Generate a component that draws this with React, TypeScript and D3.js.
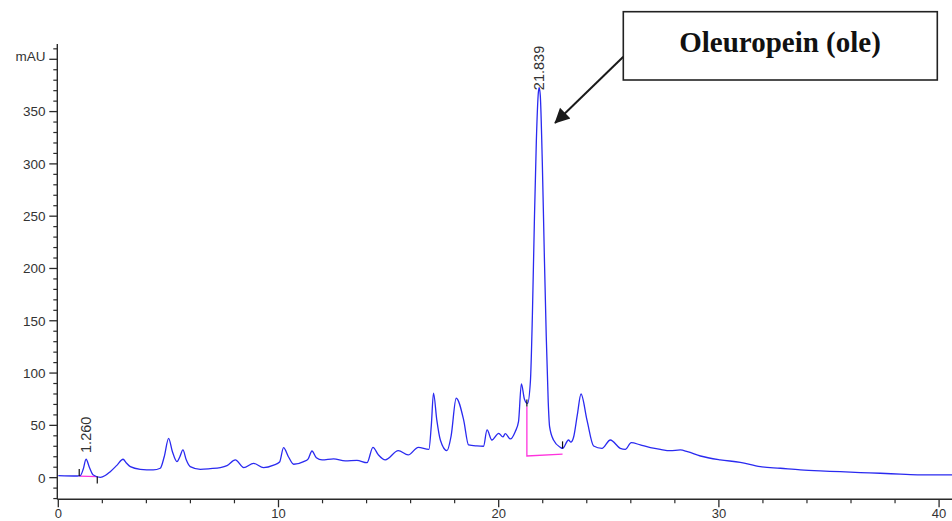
import React from "react";
import * as d3 from "d3";

// Retention time (min) and absorbance (mAU)
const retentionTimes = [
  0, 0.86, 1.0, 1.13, 1.26, 1.41, 1.59, 1.91, 2.13, 2.36, 2.67, 2.94, 3.09, 3.27, 3.72, 4.31, 4.63, 4.81,
  5.01, 5.18, 5.39, 5.52, 5.66, 5.81, 5.99, 6.45, 6.9, 7.36, 7.66, 8.04, 8.42, 8.87, 9.32, 9.78, 10.05,
  10.23, 10.45, 10.69, 11.14, 11.35, 11.52, 11.72, 11.98, 12.5, 13.03, 13.56, 14.02, 14.29, 14.53, 14.85,
  15.44, 15.89, 16.35, 16.83, 16.94, 17.04, 17.19, 17.35, 17.65, 17.84, 18.07, 18.41, 18.63, 19.01, 19.31,
  19.47, 19.69, 20.0, 20.19, 20.3, 20.53, 20.75, 20.9, 21.03, 21.17, 21.31, 21.44, 21.53, 21.62, 21.71,
  21.8, 21.84, 21.89, 21.98, 22.07, 22.16, 22.25, 22.31, 22.49, 22.8, 22.9, 23.17, 23.28, 23.4, 23.57,
  23.74, 24.01, 24.31, 24.69, 25.07, 25.52, 25.75, 26.02, 26.43, 26.89, 27.34, 27.79, 28.25, 28.57, 29.16,
  30.06, 30.97, 31.88, 32.79, 33.7, 34.6, 35.51, 36.42, 37.33, 38.24, 39.15, 40.6,
];
const absorbance = [
  2, 1.6, 2, 8, 17.6, 10, 2.5, 0.3, 2, 5.7, 12, 17.6, 14, 10.5, 8, 7.4, 9, 20,
  37.6, 25, 15.3, 20, 26.5, 17, 10.5, 8, 8.6, 9.6, 11.5, 17, 9.6, 13.7, 9.6, 12, 15,
  28.7, 20, 12.8, 15.3, 18, 25.5, 19, 17, 18, 16, 16.5, 14.3, 29, 22, 17,
  25.8, 21.7, 29, 27, 50, 80.7, 55, 36, 25.8, 40, 75.9, 55, 31.3, 30.3, 30,
  45.6, 36, 42.4, 38.9, 42, 37, 44, 53.5, 89.6, 75, 71, 92, 155, 245, 322,
  368, 373, 365, 302, 215, 135, 72, 49, 36, 29, 28, 36, 34, 38.6, 60,
  80, 55, 30.3, 28, 36, 28, 27, 33.5, 31.3, 28.7, 27, 25.8, 26.5, 24.9, 20.7,
  17, 14.7, 10.5, 9, 7.4, 6.4, 5.7, 4.8, 4.2, 3.3, 2.6, 2.6,
];

// Integration baselines (magenta) and peak-start/end markers
const baselineShortT = [0.95, 1.77];
const baselineShortV = [1.5, 1.0];
const baselineMainT = [21.28, 21.28, 22.9];
const baselineMainV = [68, 20.7, 22.4];
const markerT = [0.95, 1.77, 21.28, 22.9];
const markerV = [1.5, 1.0, 68, 28];
const markerDir = [1, -1, 1, 1];

// Peak labels (retention time, level of the label's lower end)
const peakLabelT = [1.26, 21.839];
const peakLabelV = [23.6, 370.5];
const peakLabelText = ["1.260", "21.839"];

const xMajorTicks = [0, 10, 20, 30, 40];
const yMajorTicks = [0, 50, 100, 150, 200, 250, 300, 350];
const yUnitLabel = "mAU";
const annotationText = "Oleuropein (ole)";

export default function App() {
  const W = 952;
  const H = 521;
  const x = d3.scaleLinear().domain([0, 40.6]).range([58.3, 952.3]);
  const y = d3.scaleLinear().domain([-20.7, 413]).range([499.3, 45.7]);

  const pts: [number, number][] = retentionTimes.map((t, i) => [t, absorbance[i]]);
  const line = d3
    .line<[number, number]>()
    .x((d) => x(d[0]))
    .y((d) => y(d[1]))
    .curve(d3.curveMonotoneX);
  const straight = d3
    .line<[number, number]>()
    .x((d) => x(d[0]))
    .y((d) => y(d[1]));

  const xMinor = d3.range(0, 41, 2).filter((v) => !xMajorTicks.includes(v));
  const yMinor = d3.range(-20, 411, 10).filter((v) => !yMajorTicks.includes(v) && v !== 400);

  const axisX = 57.3;
  const axisY = 499.3;
  const axisColor = "#2a2a2a";
  const font = "'Liberation Sans', Arial, sans-serif";

  return (
    <svg
      width={W}
      height={H}
      style={{ position: "absolute", left: 0, top: 0, background: "#fff" }}
    >
      {/* Y axis */}
      <line x1={axisX} x2={axisX} y1={44} y2={axisY} stroke={axisColor} strokeWidth={1.4} />
      {yMajorTicks.map((v) => (
        <g key={"ym" + v}>
          <line x1={axisX - 8} x2={axisX} y1={y(v)} y2={y(v)} stroke={axisColor} strokeWidth={1.3} />
          <text
            x={45.5}
            y={y(v)}
            dy="0.36em"
            textAnchor="end"
            fontFamily={font}
            fontSize={13.5}
            fill="#333"
          >
            {v}
          </text>
        </g>
      ))}
      <line x1={axisX - 8} x2={axisX} y1={y(400)} y2={y(400)} stroke={axisColor} strokeWidth={1.3} />
      <text x={45.5} y={y(403)} dy="0.36em" textAnchor="end" fontFamily={font} fontSize={13.5} fill="#333">
        {yUnitLabel}
      </text>
      {yMinor.map((v) => (
        <line key={"yn" + v} x1={axisX - 4} x2={axisX} y1={y(v)} y2={y(v)} stroke={axisColor} strokeWidth={1.2} />
      ))}

      {/* X axis */}
      <line x1={axisX} x2={W} y1={axisY} y2={axisY} stroke={axisColor} strokeWidth={1.4} />
      {xMajorTicks.map((v) => (
        <g key={"xm" + v}>
          <line x1={x(v)} x2={x(v)} y1={axisY} y2={axisY + 8} stroke={axisColor} strokeWidth={1.3} />
          <text
            x={x(v)}
            y={518}
            textAnchor="middle"
            fontFamily={font}
            fontSize={13}
            fill="#333"
          >
            {v}
          </text>
        </g>
      ))}
      {xMinor.map((v) => (
        <line key={"xn" + v} x1={x(v)} x2={x(v)} y1={axisY} y2={axisY + 4} stroke={axisColor} strokeWidth={1.2} />
      ))}

      {/* Baselines */}
      <path
        d={straight(baselineShortT.map((t, i) => [t, baselineShortV[i]]) as [number, number][]) || ""}
        fill="none"
        stroke="#ff33dd"
        strokeWidth={1.3}
      />
      <path
        d={straight(baselineMainT.map((t, i) => [t, baselineMainV[i]]) as [number, number][]) || ""}
        fill="none"
        stroke="#ff33dd"
        strokeWidth={1.3}
      />

      {/* Chromatogram */}
      <path d={line(pts) || ""} fill="none" stroke="#2a2af0" strokeWidth={1.3} strokeLinejoin="round" />

      {/* Peak start/end markers */}
      {markerT.map((t, i) => (
        <line
          key={"mk" + i}
          x1={x(t)}
          x2={x(t)}
          y1={y(markerV[i])}
          y2={y(markerV[i]) - 7 * markerDir[i]}
          stroke="#111"
          strokeWidth={1.2}
        />
      ))}

      {/* Peak labels */}
      {peakLabelT.map((t, i) => {
        const px = x(t) + 4.5;
        const py = y(peakLabelV[i]);
        return (
          <text
            key={"pl" + i}
            transform={`translate(${px},${py}) rotate(-90)`}
            fontFamily={font}
            fontSize={14.5}
            fill="#333"
          >
            {peakLabelText[i]}
          </text>
        );
      })}

      {/* Annotation */}
      <defs>
        <marker id="arrowHead" viewBox="0 0 10 10" refX="9.5" refY="5" markerWidth="20" markerHeight="15" markerUnits="userSpaceOnUse" orient="auto">
          <path d="M0,0 L10,5 L0,10 z" fill="#1a1a1a" />
        </marker>
      </defs>
      <line
        x1={623.3}
        y1={56.7}
        x2={555}
        y2={123}
        stroke="#1a1a1a"
        strokeWidth={2}
        markerEnd="url(#arrowHead)"
      />
      <rect x={623.3} y={11.7} width={314} height={68.3} fill="#fff" stroke="#222" strokeWidth={1.6} />
      <text
        x={780}
        y={51.5}
        textAnchor="middle"
        fontFamily="'Liberation Serif', 'Times New Roman', serif"
        fontWeight="bold"
        fontSize={29}
        fill="#111"
      >
        {annotationText}
      </text>
    </svg>
  );
}
